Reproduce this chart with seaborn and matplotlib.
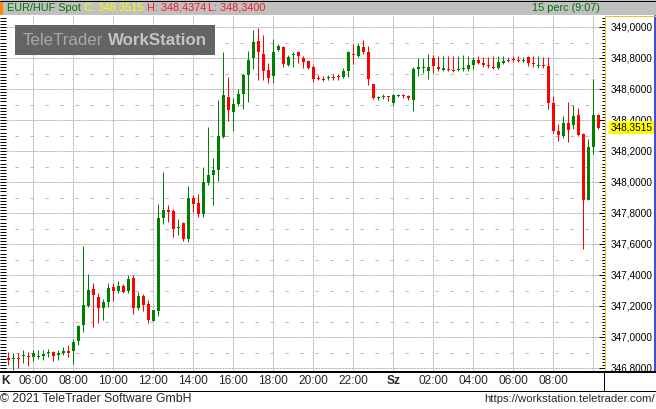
import matplotlib
matplotlib.use("Agg")
import matplotlib.pyplot as plt
import matplotlib.transforms as mtransforms
from matplotlib.patches import Rectangle
from matplotlib.ticker import MultipleLocator
import numpy as np
import pandas as pd
import seaborn as sns

sns.set_theme(style="white")
plt.rcParams["font.family"] = ["Liberation Sans", "DejaVu Sans"]

# EUR/HUF 15 minute candles
opens = [346.869, 346.858, 346.863, 346.880, 346.876, 346.873, 346.873, 346.880, 346.901, 346.906,
         346.886, 346.899, 346.914, 346.914, 346.974, 347.080, 347.202, 347.312, 347.258, 347.191,
         347.228, 347.322, 347.299, 347.329, 347.299, 347.382, 347.191, 347.264, 347.215, 347.107,
         347.170, 347.769, 347.819, 347.814, 347.703, 347.737, 347.634, 347.898, 347.866, 347.797,
         347.997, 348.046, 348.079, 348.291, 348.549, 348.454, 348.504, 348.570, 348.693, 348.800,
         348.908, 348.826, 348.723, 348.686, 348.850, 348.871, 348.757, 348.817, 348.841, 348.800,
         348.779, 348.742, 348.671, 348.665, 348.669, 348.674, 348.680, 348.680, 348.719, 348.826,
         348.811, 348.871, 348.837, 348.633, 348.543, 348.547, 348.551, 348.512, 348.558, 348.558,
         348.555, 348.532, 348.729, 348.734, 348.719, 348.800, 348.742, 348.723, 348.729, 348.723,
         348.725, 348.727, 348.732, 348.753, 348.790, 348.770, 348.751, 348.742, 348.738, 348.772,
         348.783, 348.790, 348.783, 348.783, 348.807, 348.770, 348.751, 348.755, 348.749, 348.510,
         348.330, 348.298, 348.381, 348.371, 348.433, 348.313, 347.887, 348.227, 348.433]
highs = [346.906, 346.899, 346.899, 346.916, 346.906, 346.916, 346.916, 346.916, 346.923, 346.910,
         346.916, 346.938, 346.949, 346.989, 347.077, 347.589, 347.408, 347.350, 347.286, 347.247,
         347.352, 347.350, 347.361, 347.346, 347.400, 347.400, 347.292, 347.279, 347.239, 347.178,
         347.857, 348.066, 347.855, 347.829, 347.763, 347.743, 347.973, 347.915, 347.924, 348.098,
         348.356, 348.156, 348.532, 348.839, 348.678, 348.543, 348.603, 348.699, 348.845, 348.981,
         348.994, 348.948, 348.770, 348.921, 348.888, 348.878, 348.820, 348.839, 348.845, 348.813,
         348.790, 348.753, 348.691, 348.682, 348.689, 348.695, 348.695, 348.738, 348.848, 348.888,
         348.897, 348.914, 348.878, 348.635, 348.553, 348.568, 348.558, 348.568, 348.568, 348.568,
         348.562, 348.742, 348.800, 348.800, 348.826, 348.822, 348.813, 348.813, 348.813, 348.813,
         348.813, 348.820, 348.813, 348.805, 348.813, 348.807, 348.807, 348.813, 348.813, 348.813,
         348.807, 348.813, 348.813, 348.807, 348.813, 348.813, 348.813, 348.807, 348.807, 348.555,
         348.373, 348.426, 348.517, 348.497, 348.478, 348.317, 348.276, 348.665, 348.4374]
lows = [346.820, 346.792, 346.802, 346.835, 346.818, 346.845, 346.863, 346.856, 346.873, 346.848,
        346.856, 346.884, 346.873, 346.830, 346.953, 347.037, 347.196, 347.067, 347.095, 347.112,
        347.196, 347.234, 347.286, 347.284, 347.286, 347.153, 347.174, 347.170, 347.095, 347.103,
        347.140, 347.733, 347.746, 347.647, 347.662, 347.619, 347.617, 347.808, 347.776, 347.776,
        347.984, 347.855, 348.008, 348.285, 348.396, 348.330, 348.493, 348.474, 348.519, 348.732,
        348.661, 348.656, 348.637, 348.641, 348.845, 348.742, 348.749, 348.742, 348.770, 348.736,
        348.729, 348.648, 348.656, 348.654, 348.656, 348.656, 348.656, 348.674, 348.680, 348.760,
        348.807, 348.828, 348.628, 348.536, 348.532, 348.534, 348.525, 348.497, 348.551, 348.543,
        348.532, 348.459, 348.684, 348.704, 348.665, 348.704, 348.717, 348.717, 348.719, 348.712,
        348.719, 348.719, 348.719, 348.729, 348.764, 348.742, 348.736, 348.732, 348.732, 348.764,
        348.772, 348.777, 348.772, 348.772, 348.749, 348.742, 348.738, 348.738, 348.474, 348.317,
        348.265, 348.285, 348.259, 348.345, 348.298, 347.572, 347.887, 348.184, 348.3400]
closes = [346.856, 346.863, 346.858, 346.884, 346.871, 346.899, 346.878, 346.891, 346.906, 346.882,
          346.899, 346.912, 346.899, 346.968, 347.073, 347.206, 347.303, 347.275, 347.191, 347.226,
          347.316, 347.299, 347.329, 347.292, 347.376, 347.189, 347.264, 347.208, 347.114, 347.174,
          347.769, 347.819, 347.808, 347.698, 347.707, 347.636, 347.898, 347.862, 347.797, 348.001,
          348.046, 348.079, 348.298, 348.562, 348.465, 348.504, 348.566, 348.691, 348.787, 348.903,
          348.841, 348.719, 348.671, 348.839, 348.878, 348.764, 348.805, 348.826, 348.811, 348.777,
          348.736, 348.667, 348.667, 348.661, 348.674, 348.669, 348.676, 348.717, 348.841, 348.822,
          348.875, 348.841, 348.663, 348.545, 348.547, 348.551, 348.547, 348.562, 348.562, 348.553,
          348.545, 348.729, 348.742, 348.740, 348.742, 348.751, 348.729, 348.736, 348.725, 348.719,
          348.729, 348.732, 348.753, 348.790, 348.770, 348.753, 348.747, 348.738, 348.772, 348.777,
          348.779, 348.785, 348.779, 348.787, 348.770, 348.766, 348.755, 348.751, 348.510, 348.330,
          348.304, 348.381, 348.338, 348.426, 348.304, 347.887, 348.227, 348.433, 348.3515]
start_time = "2021-03-02 04:45"
day_names = {1: "K", 2: "Sz"}
symbol = "EUR/HUF Spot"
period_text = "15 perc (9:07)"

df = pd.DataFrame({"open": opens, "high": highs, "low": lows, "close": closes})
df["time"] = pd.date_range(start_time, periods=len(df), freq="15min")
df["up"] = df["close"] >= df["open"]
colors = np.where(df["up"], "#008000", "#ff0000")

W, H = 656, 409
PX = 0.72  # one pixel in points
fig = plt.figure(figsize=(W / 100, H / 100), dpi=100)
fig.patch.set_facecolor("white")

ax = fig.add_axes([0, 1 - 371 / H, 603 / W, (371 - 16) / H])
ax.set_facecolor("white")
ax.set_xlim(-1.667, 118.93)
ax.set_ylim(346.783, 349.071)

# grid
grid_idx = df.index[(df["time"].dt.minute == 0) & (df["time"].dt.hour % 2 == 0)]
for pos in grid_idx:
    ax.axvline(pos, color="#b0b0b0", lw=PX, ls=(0, (2, 1)), zorder=0)
major = np.round(np.arange(346.8, 349.01, 0.2), 1)
for lv in major:
    ax.axhline(lv, color="#b0b0b0", lw=PX, ls=(0, (2, 1)), zorder=0)
for lv in major[:-1] + 0.1:
    ax.axhline(lv, color="#b8b8b8", lw=PX, ls=(0, (3.3, 11.7)), zorder=0)

# candles
ax.vlines(df.index, df["low"], df["high"], colors=colors, lw=PX, zorder=2)
body = (df["close"] - df["open"]).abs().clip(lower=0.0065)
mid = (df["close"] + df["open"]) / 2
ax.bar(df.index, body, bottom=mid - body / 2, width=0.6, color=colors, lw=0, zorder=3)

for s in ax.spines.values():
    s.set_visible(False)
ax.set_xticks([])
ax.set_yticks(major)
ax.yaxis.set_minor_locator(MultipleLocator(0.2 / 6))
ax.tick_params(axis="y", which="both", direction="in", length=4, width=PX,
               color="black", left=True, labelleft=False)

# right price axis
ax_r = fig.add_axes([604.5 / W, 1 - 371 / H, 50.5 / W, (371 - 16) / H], sharey=ax)
ax_r.set_facecolor("white")
ax_r.set_xticks([])
ax_r.spines["bottom"].set_visible(False)
ax_r.spines["left"].set_color("#f0c020")
ax_r.spines["top"].set_color("#f0c020")
ax_r.spines["right"].set_color("#1010c0")
ax_r.spines["left"].set_linewidth(PX)
ax_r.spines["top"].set_linewidth(PX)
ax_r.spines["right"].set_linewidth(1.5 * PX)
ax_r.yaxis.set_minor_locator(MultipleLocator(0.02))
ax_r.tick_params(axis="y", which="major", direction="out", length=4, width=PX, color="black",
                 left=True, labelleft=False)
ax_r.tick_params(axis="y", which="minor", direction="out", length=2.5, width=PX, color="black",
                 left=True)
ytr = ax_r.get_yaxis_transform()
for lv in major:
    ax_r.text(0.12, lv, f"{lv:.4f}".replace(".", ","), transform=ytr, ha="left", va="center",
              fontsize=7.2, color="black", zorder=3)
last = df["close"].iloc[-1]
ax_r.text(0.12, last, f"{last:.4f}".replace(".", ","), transform=ytr, ha="left", va="center",
          fontsize=7.2, color="black", zorder=5,
          bbox=dict(facecolor="#ffff00", edgecolor="none", pad=1.3))

# chrome overlay in pixel coordinates
ov = fig.add_axes([0, 0, 1, 1])
ov.set_xlim(0, W)
ov.set_ylim(H, 0)
ov.axis("off")

ov.add_patch(Rectangle((0, 0), W, 15, color="#c0c0c0", lw=0))
ov.plot([0, W], [0.5, 0.5], color="black", lw=PX)
ov.add_patch(Rectangle((0, 1), 3, 14, color="#ff8c00", lw=0))
hfs = 7.8
ov.text(7, 8, symbol, color="#007800", va="center", fontsize=hfs)
ov.text(84, 8, f"C: {last:.4f}".replace(".", ","), color="#ffff00", va="center", fontsize=hfs)
ov.text(147, 8, f"H: {df['high'].iloc[-1]:.4f}".replace(".", ","), color="#f02020",
        va="center", fontsize=hfs)
ov.text(208, 8, f"L: {df['low'].iloc[-1]:.4f}".replace(".", ","), color="#f02020",
        va="center", fontsize=hfs)
ov.text(600, 8, period_text, color="#007800", va="center", ha="right", fontsize=hfs)

# watermark, sized so the two words fill x 23..207
ov.add_patch(Rectangle((15, 25), 200, 30, color="#646464", lw=0))
wm_fs = 12
t1 = ov.text(23, 40.5, "TeleTrader", color="#a8a8a8", fontsize=wm_fs, va="center")
t2 = ov.text(0, 40.5, "WorkStation", color="#c4c4c4", fontsize=wm_fs, fontweight="bold",
             va="center")
renderer = fig.canvas.get_renderer()
w1 = t1.get_window_extent(renderer).width
w2 = t2.get_window_extent(renderer).width
gap = 0.28 * wm_fs / PX
k = 184 / (w1 + w2 + gap)
t1.set_fontsize(wm_fs * k)
t2.set_fontsize(wm_fs * k)
t2.set_x(23 + (w1 + gap) * k)

# time axis band
ov.plot([0, W], [372, 372], color="black", lw=2 * PX)
ov.plot([0, W], [390.5, 390.5], color="black", lw=PX)
ov.plot([603.5, 603.5], [372, 391], color="black", lw=PX)
ov.plot([655.5, 655.5], [372, 391], color="black", lw=PX)
xtr = mtransforms.blended_transform_factory(ax.transData, ov.transData)
ov.text(6, 381.5, day_names[df["time"].iloc[0].dayofweek], fontsize=8.6,
        fontweight="bold", ha="center", va="center")
for pos in grid_idx:
    if pos > 112:
        continue
    t = df["time"].iloc[pos]
    if t.hour == 0:
        ov.text(pos, 381.5, day_names[t.dayofweek], transform=xtr, fontsize=8.6,
                fontweight="bold", ha="center", va="center")
    else:
        ov.text(pos, 381.5, t.strftime("%H:%M"), transform=xtr, fontsize=8.6,
                ha="center", va="center")

# footer
ov.text(0, 399, "\u00a9 2021 TeleTrader Software GmbH", fontsize=8.8, va="center")
ov.text(655, 399, "https://workstation.teletrader.com/", fontsize=8.2, va="center", ha="right")

fig.savefig("out.png", dpi=100)
